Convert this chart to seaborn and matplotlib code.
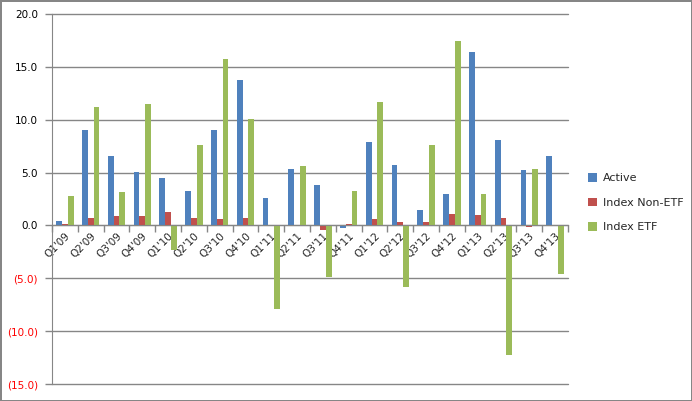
import numpy as np
import pandas as pd
import seaborn as sns
import matplotlib.pyplot as plt

# quarterly values
quarters = ["Q1'09", "Q2'09", "Q3'09", "Q4'09", "Q1'10", "Q2'10", "Q3'10", "Q4'10",
            "Q1'11", "Q2'11", "Q3'11", "Q4'11", "Q1'12", "Q2'12", "Q3'12", "Q4'12",
            "Q1'13", "Q2'13", "Q3'13", "Q4'13"]
active = [0.4, 9.0, 6.6, 5.1, 4.5, 3.3, 9.0, 13.8,
          2.55, 5.3, 3.8, -0.25, 7.9, 5.75, 1.5, 3.0,
          16.4, 8.1, 5.2, 6.6]
index_non_etf = [0.1, 0.66, 0.85, 0.85, 1.3, 0.66, 0.57, 0.75,
                 0.0, 0.0, -0.45, 0.1, 0.57, 0.28, 0.28, 1.04,
                 0.94, 0.75, -0.15, -0.1]
index_etf = [2.8, 11.2, 3.2, 11.5, -2.3, 7.6, 15.7, 10.1,
             -7.9, 5.6, -4.9, 3.3, 11.7, -5.85, 7.6, 17.45,
             3.0, -12.3, 5.3, -4.6]
series_names = ["Active", "Index Non-ETF", "Index ETF"]
colors = ["#4F81BD", "#C0504D", "#9BBB59"]
y_ticks = [-15, -10, -5, 0, 5, 10, 15, 20]

df = pd.DataFrame({
    "quarter": quarters * 3,
    "value": active + index_non_etf + index_etf,
    "series": [s for s in series_names for _ in quarters],
})

sns.set_style("white")
plt.rcParams["font.family"] = ["DejaVu Sans"]

grid_c = "#868686"
fig = plt.figure(figsize=(6.92, 4.01), dpi=100)
fig.patch.set_edgecolor(grid_c)
fig.patch.set_linewidth(0.8)
ax = fig.add_axes([52 / 692, 17 / 401, 516 / 692, 370 / 401])

sns.barplot(data=df, x="quarter", y="value", hue="series", palette=colors,
            width=0.667, saturation=1, linewidth=0, ax=ax, zorder=3)

ax.set_ylim(-15, 20)
ax.set_xlim(-0.5, len(quarters) - 0.5)
ax.set_xlabel("")
ax.set_ylabel("")

# y axis: Excel style with negatives in red parentheses
labels = [f"({abs(v):.1f})" if v < 0 else f"{v:.1f}" for v in y_ticks]
ax.set_yticks(y_ticks, labels)
for lbl, v in zip(ax.get_yticklabels(), y_ticks):
    lbl.set_color("red" if v < 0 else "black")
ax.tick_params(axis="y", length=5, width=1, color=grid_c, labelsize=7.5, pad=5, left=True)
ax.yaxis.grid(True, color=grid_c, linewidth=1, zorder=0)
for gl in ax.get_ygridlines():
    gl.set_clip_on(False)
ax.set_axisbelow(True)

for side in ["top", "right"]:
    ax.spines[side].set_visible(False)
ax.spines["left"].set_color(grid_c)
ax.spines["bottom"].set_color(grid_c)
ax.spines["bottom"].set_position(("data", 0))

# category labels at centres, tick marks between categories
ax.set_xticks(range(len(quarters)), quarters, rotation=45, ha="right",
              rotation_mode="anchor")
ax.tick_params(axis="x", which="major", length=0, labelsize=7.5, pad=4)
ax.set_xticks(np.arange(-0.5, len(quarters)), minor=True)
ax.tick_params(axis="x", which="minor", length=5, width=1, color=grid_c, bottom=True)
ax.spines["bottom"].set_zorder(4)

leg = ax.legend(loc="center left", bbox_to_anchor=(1.02, 0.49), frameon=False,
                fontsize=8, handlelength=0.8, handleheight=0.8,
                labelspacing=1.3, handletextpad=0.5)

fig.savefig("out.png", dpi=100, edgecolor=fig.get_edgecolor())
